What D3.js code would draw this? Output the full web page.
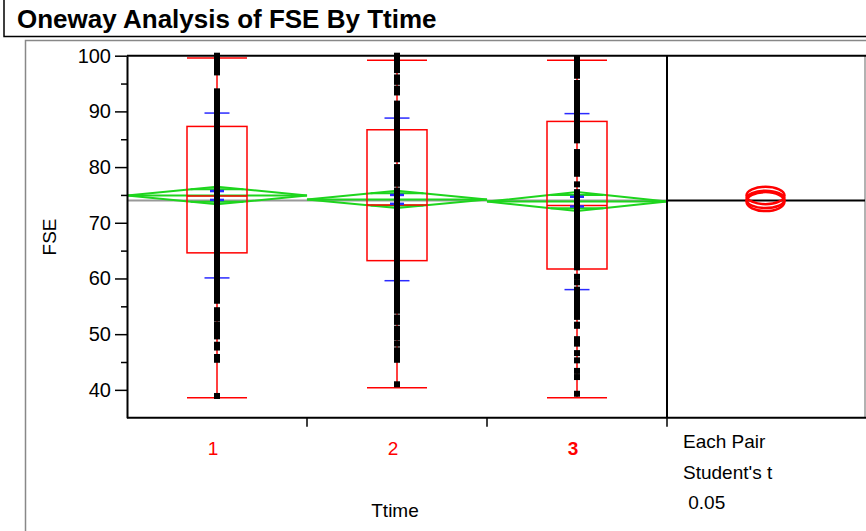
<!DOCTYPE html>
<html lang="en-US">
  <head>
    <meta charset="utf-8" />
    <title>Oneway Analysis of FSE By Ttime</title>
    <script src="https://d3js.org/d3.v7.min.js"></script>
    <style>
      body { margin: 0; background: #fff; }
      text { font-family: "Liberation Sans", Arial, sans-serif; }
    </style>
  </head>
  <body>
    <div id="chart"></div>
    <script>
      // groups on the x axis
      var categories = ["1", "2", "3"];

      // raw FSE values per group
      var points1 = [100, 99.5, 99, 98.5, 98, 97.5, 97, 93.6, 92.9, 92, 91.2, 90.4, 89.6, 88.8, 88, 87.2,
        86.4, 85.6, 84.8, 84, 83.2, 82.4, 81.6, 80.8, 80, 79.2, 78.4, 77.6, 76.8, 76, 75.2, 74.4, 73.6,
        72.8, 72, 71.2, 70.4, 69.6, 68.8, 68, 67.2, 66.4, 65.6, 64.8, 64, 63.2, 62.4, 61.6, 60.8, 60,
        59.2, 58.4, 57.6, 56.8, 56, 54.3, 53.6, 52.8, 51.7, 50.9, 50.2, 49.6, 48.1, 47.6, 45.9, 45.4, 38.9];
      var points2 = [100, 99.5, 99, 98.5, 98, 97.4, 96.1, 95.3, 94.1, 93.4, 91.4, 90.6, 89.8, 89, 88.2,
        87.4, 86.6, 85.8, 85, 84.2, 83.4, 82.6, 81.8, 81.4, 80, 79.2, 78.4, 77.6, 77, 75.8, 75, 74.2,
        73.4, 72.6, 71.8, 71, 70.2, 69.4, 68.6, 67.8, 67, 66.2, 65.4, 64.6, 63.8, 63, 62.2, 61.4, 60.6,
        59.8, 59, 58.2, 57.4, 56.6, 55.8, 55, 54.2, 53, 52.2, 51, 50.2, 49.4, 48.3, 47.1, 46.3, 45.4, 41];
      var points3 = [99.5, 98.8, 98, 97.2, 96.4, 95.1, 94.3, 93.5, 92.7, 91.9, 91.1, 90.3, 89.5, 88.7,
        87.9, 87.1, 86.3, 85.5, 84.8, 82.7, 81.9, 81.1, 80.3, 79.5, 78.8, 76.9, 75.5, 74.7, 73.9, 73.1,
        72.3, 71.5, 70.7, 69.9, 69.1, 68.3, 67.5, 66.7, 65.9, 65.1, 64.3, 63.5, 62.7, 62, 60.3, 59.3,
        58, 57.2, 56.4, 55.6, 54.8, 54, 53.1, 51.7, 51.5, 49.1, 48.3, 46.6, 45.3, 43.4, 42.3, 39.3];

      // box plot summaries
      var whiskerHi = [99.6, 99.2, 99.2];
      var q3 = [87.3, 86.7, 88.2];
      var medians = [74.8, 73.2, 73.1];
      var q1 = [64.6, 63.2, 61.7];
      var whiskerLo = [38.6, 40.4, 38.6];

      // means, std dev, std error
      var means = [74.9, 74.2, 73.8];
      var stdDev = [14.8, 14.6, 15.8];
      var stdErr = [0.8, 0.8, 0.87];
      var grandMean = 74.0;
      var tCrit = 1.96;

      var yTicks = [40, 50, 60, 70, 80, 90, 100];
      var yMinor = [45, 55, 65, 75, 85, 95];

      var allPoints = [points1, points2, points3];

      var width = 866, height = 531;
      var plotL = 127, plotT = 55.7, plotB = 417.7, plotSplit = 667, plotR = 865;

      var svg = d3.select("#chart").append("svg")
        .attr("width", width).attr("height", height);

      // outer report frames
      svg.append("path").attr("d", "M4,0V36.5H866").attr("fill", "none")
        .attr("stroke", "#000").attr("stroke-width", 1.5);
      svg.append("path").attr("d", "M25.5,531V40.5H866").attr("fill", "none")
        .attr("stroke", "#888").attr("stroke-width", 1.5);
      svg.append("text").attr("x", 17).attr("y", 28)
        .attr("font-size", 26).attr("font-weight", "bold")
        .text("Oneway Analysis of FSE By Ttime");

      var x = d3.scaleBand().domain(categories).range([plotL, plotSplit]).padding(0);
      var y = d3.scaleLinear().domain([35, 100]).range([plotB, plotT]);
      var bw = x.bandwidth();
      var cx = function (i) { return x(categories[i]) + bw / 2; };

      // right frame edge
      svg.append("line").attr("x1", plotR).attr("x2", plotR).attr("y1", plotT).attr("y2", plotB)
        .attr("stroke", "#999").attr("stroke-width", 1.5);

      // grand mean line
      svg.append("line").attr("x1", plotL).attr("x2", plotSplit)
        .attr("y1", y(grandMean)).attr("y2", y(grandMean))
        .attr("stroke", "#999").attr("stroke-width", 2);

      var g = svg.append("g");

      categories.forEach(function (c, i) {
        var xc = cx(i), x0 = x(c);

        // mean diamond
        var ci = tCrit * stdErr[i];
        var ov = ci / Math.SQRT2;
        var half = bw / 2 * (1 - 1 / Math.SQRT2);
        g.append("path")
          .attr("d", "M" + x0 + "," + y(means[i]) + "L" + xc + "," + y(means[i] + ci) +
            "L" + (x0 + bw) + "," + y(means[i]) + "L" + xc + "," + y(means[i] - ci) + "Z")
          .attr("fill", "none").attr("stroke", "#1ed51e").attr("stroke-width", 2);
        g.append("line").attr("x1", x0).attr("x2", x0 + bw)
          .attr("y1", y(means[i])).attr("y2", y(means[i]))
          .attr("stroke", "#1ed51e").attr("stroke-width", 2);
        [ov, -ov].forEach(function (d) {
          g.append("line").attr("x1", xc - half).attr("x2", xc + half)
            .attr("y1", y(means[i] + d)).attr("y2", y(means[i] + d))
            .attr("stroke", "#1ed51e").attr("stroke-width", 2);
        });

        // box plot
        g.append("line").attr("x1", xc).attr("x2", xc)
          .attr("y1", y(whiskerHi[i])).attr("y2", y(whiskerLo[i]))
          .attr("stroke", "red").attr("stroke-width", 1.5);
        [whiskerHi[i], whiskerLo[i]].forEach(function (v) {
          g.append("line").attr("x1", xc - 30).attr("x2", xc + 30)
            .attr("y1", y(v)).attr("y2", y(v))
            .attr("stroke", "red").attr("stroke-width", 1.5);
        });
        g.append("rect").attr("x", xc - 30).attr("width", 60)
          .attr("y", y(q3[i])).attr("height", y(q1[i]) - y(q3[i]))
          .attr("fill", "none").attr("stroke", "red").attr("stroke-width", 1.5);
        g.append("line").attr("x1", xc - 30).attr("x2", xc + 30)
          .attr("y1", y(medians[i])).attr("y2", y(medians[i]))
          .attr("stroke", "red").attr("stroke-width", 1.5);

        // std dev lines and mean error bars
        [stdDev[i], -stdDev[i]].forEach(function (d) {
          g.append("line").attr("x1", xc - 12.5).attr("x2", xc + 12.5)
            .attr("y1", y(means[i] + d)).attr("y2", y(means[i] + d))
            .attr("stroke", "#2a2aff").attr("stroke-width", 1.5);
        });
        [stdErr[i], -stdErr[i]].forEach(function (d) {
          g.append("line").attr("x1", xc - 7).attr("x2", xc + 7)
            .attr("y1", y(means[i] + d)).attr("y2", y(means[i] + d))
            .attr("stroke", "#2a2aff").attr("stroke-width", 2.5);
        });

        // data points
        g.selectAll(".pt" + i).data(allPoints[i]).enter().append("rect")
          .attr("class", "pt" + i)
          .attr("x", xc - 3).attr("width", 6)
          .attr("y", function (d) { return y(d) - 3; }).attr("height", 6)
          .attr("fill", "#000");
      });

      // comparison circles panel
      svg.append("line").attr("x1", plotSplit).attr("x2", plotR)
        .attr("y1", y(grandMean)).attr("y2", y(grandMean))
        .attr("stroke", "#000").attr("stroke-width", 2);
      means.forEach(function (m, i) {
        var r = y(m - tCrit * stdErr[i]) - y(m);
        svg.append("ellipse").attr("cx", (plotSplit + plotR) / 2 - 0.5).attr("cy", y(m))
          .attr("rx", 19).attr("ry", r)
          .attr("fill", "none").attr("stroke", "red").attr("stroke-width", 2.5);
      });

      // axes
      var yAxis = svg.append("g").attr("transform", "translate(" + plotL + ",0)")
        .call(d3.axisLeft(y).tickValues(yTicks).tickSize(12).tickSizeOuter(0).tickPadding(4));
      yAxis.select(".domain").attr("stroke-width", 2);
      yAxis.selectAll(".tick line").attr("stroke-width", 1.5);
      yAxis.selectAll("text").attr("font-size", 20).attr("font-family", "Liberation Sans, Arial, sans-serif");
      var yMin = svg.append("g").attr("transform", "translate(" + plotL + ",0)")
        .call(d3.axisLeft(y).tickValues(yMinor).tickSize(6).tickSizeOuter(0).tickFormat(""));
      yMin.select(".domain").remove();
      yMin.selectAll(".tick line").attr("stroke-width", 1.5);

      // top frame and bottom axis lines
      svg.append("line").attr("x1", plotL).attr("x2", 866).attr("y1", plotT).attr("y2", plotT)
        .attr("stroke", "#000").attr("stroke-width", 2);
      svg.append("line").attr("x1", plotL).attr("x2", 866).attr("y1", plotB).attr("y2", plotB)
        .attr("stroke", "#000").attr("stroke-width", 2);
      svg.append("line").attr("x1", plotSplit).attr("x2", plotSplit).attr("y1", plotT).attr("y2", plotB)
        .attr("stroke", "#000").attr("stroke-width", 2);

      // x ticks at band edges
      svg.selectAll(".xtick").data(categories).enter().append("line")
        .attr("x1", function (d) { return x(d) + bw; }).attr("x2", function (d) { return x(d) + bw; })
        .attr("y1", plotB).attr("y2", plotB + 9)
        .attr("stroke", "#000").attr("stroke-width", 1.5);

      svg.selectAll(".xlab").data(categories).enter().append("text")
        .attr("x", function (d) { return x(d) + bw / 2 - 4; }).attr("y", 455)
        .attr("text-anchor", "middle").attr("font-size", 19).attr("fill", "red")
        .attr("font-weight", function (d, i) { return i === 2 ? "bold" : "normal"; })
        .text(function (d) { return d; });

      svg.append("text").attr("x", 395).attr("y", 517).attr("text-anchor", "middle")
        .attr("font-size", 19).text("Ttime");
      svg.append("text").attr("transform", "translate(56,237) rotate(-90)")
        .attr("text-anchor", "middle").attr("font-size", 19).text("FSE");

      var notes = ["Each Pair", "Student's t", "\u00a00.05"];
      svg.selectAll(".note").data(notes).enter().append("text")
        .attr("x", 683).attr("y", function (d, i) { return 448 + i * 30.5; })
        .attr("font-size", 19).text(function (d) { return d; });
    </script>
  </body>
</html>
